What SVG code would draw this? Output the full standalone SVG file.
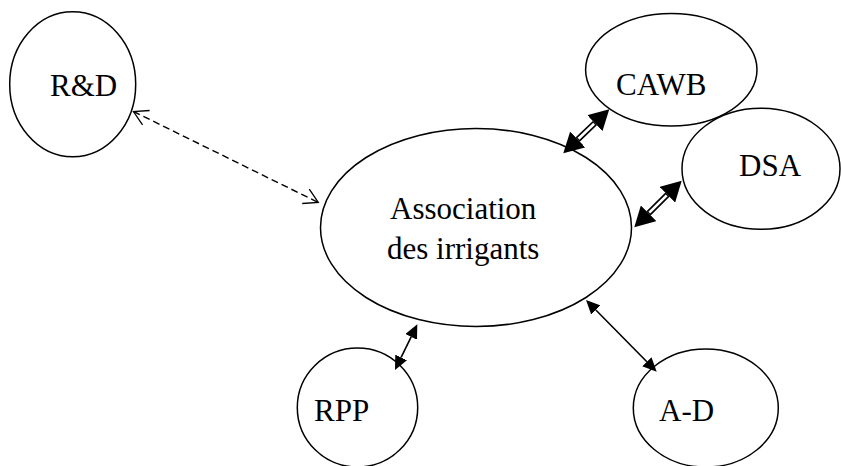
<svg xmlns="http://www.w3.org/2000/svg" width="841" height="466" viewBox="0 0 841 466">
<style>
.node ellipse{fill:#fff;stroke:#000;stroke-width:1.5}
.node text{font-family:"Liberation Serif","Times New Roman",serif;font-size:31px;fill:#000}
.dash{stroke:#000;stroke-width:1.4;stroke-dasharray:7 4;fill:none}
.thin{stroke:#000;stroke-width:1.6;fill:none}
.dbl-out{stroke:#000;stroke-width:6;fill:none}
.dbl-in{stroke:#fff;stroke-width:2.6;fill:none}
</style>
<defs>
<marker id="big" markerUnits="userSpaceOnUse" markerWidth="20" markerHeight="22" refX="0" refY="11" orient="auto-start-reverse"><path d="M0,0 L20,11 L0,22 z" fill="#000"/></marker>
<marker id="small" markerUnits="userSpaceOnUse" markerWidth="14" markerHeight="13" refX="0" refY="6.5" orient="auto-start-reverse"><path d="M0,0 L14,6.5 L0,13 z" fill="#000"/></marker>
<marker id="open" markerUnits="userSpaceOnUse" markerWidth="17" markerHeight="18" refX="15" refY="9" orient="auto-start-reverse"><path d="M1,1 L15,9 L1,17" fill="none" stroke="#000" stroke-width="1.3"/></marker>
</defs>
<g id="rd" class="node"><ellipse cx="72.7" cy="84.2" rx="63" ry="72.5"/><text x="50" y="96">R&amp;D</text></g>
<g id="cawb" class="node"><ellipse cx="671.3" cy="69.7" rx="85.7" ry="56.3"/><text x="616" y="95">CAWB</text></g>
<g id="dsa" class="node"><ellipse cx="761" cy="168.8" rx="79" ry="60.5"/><text x="739" y="176">DSA</text></g>
<g id="assoc" class="node"><ellipse cx="476" cy="227.5" rx="155.5" ry="99"/><text x="390" y="219">Association</text><text x="387" y="259">des irrigants</text></g>
<g id="rpp" class="node"><ellipse cx="357.5" cy="407.5" rx="60.2" ry="59.5"/><text x="314" y="421">RPP</text></g>
<g id="ad" class="node"><ellipse cx="705.8" cy="408" rx="72.5" ry="59"/><text x="659" y="421">A-D</text></g>
<g id="connectors">
<line class="dash" x1="133.5" y1="111.5" x2="318.3" y2="202.5" marker-start="url(#open)" marker-end="url(#open)"/>
<line class="dbl-out" x1="577.75" y1="139.48" x2="594.85" y2="123.12" marker-start="url(#big)" marker-end="url(#big)"/>
<line class="dbl-in" x1="578.5" y1="138.8" x2="594.1" y2="123.8"/>
<line class="dbl-out" x1="648.56" y1="213.28" x2="667.44" y2="194.72" marker-start="url(#big)" marker-end="url(#big)"/>
<line class="dbl-in" x1="649.3" y1="212.6" x2="666.7" y2="195.4"/>
<line class="thin" x1="401.14" y1="357.42" x2="411.16" y2="336.88" marker-start="url(#small)" marker-end="url(#small)"/>
<line class="thin" x1="595.83" y1="309.97" x2="646.87" y2="361.73" marker-start="url(#small)" marker-end="url(#small)"/>
</g>
</svg>
